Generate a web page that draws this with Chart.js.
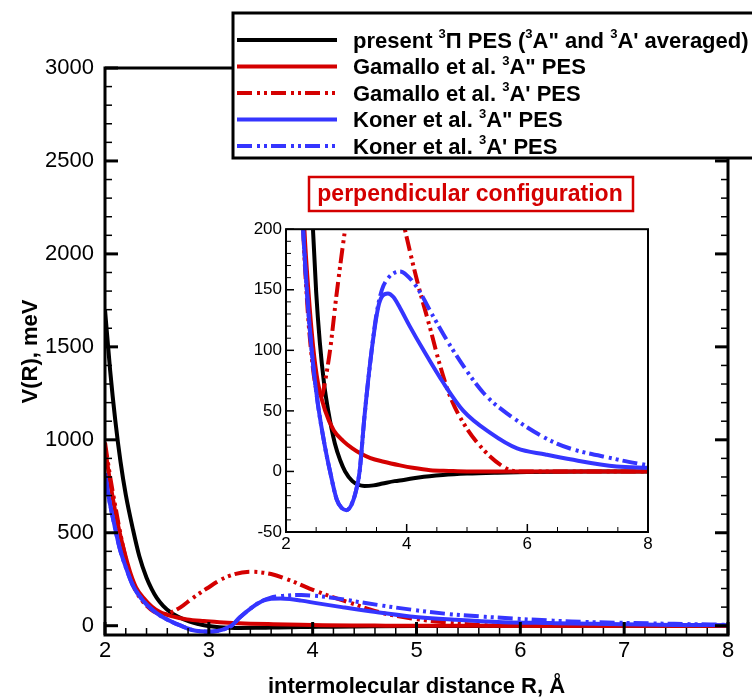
<!DOCTYPE html>
<html><head><meta charset="utf-8">
<script src="https://cdn.jsdelivr.net/npm/chart.js@4.4.1/dist/chart.umd.min.js"></script>
<style>
html,body{margin:0;padding:0;background:#fff;}
#wrap{position:relative;width:752px;height:700px;overflow:hidden;background:#fff;}
#main{position:absolute;left:0;top:0;}
#inset{position:absolute;left:240px;top:215px;}
</style></head><body>
<div id="wrap"><canvas id="main" width="752" height="700"></canvas><canvas id="inset" width="420" height="345"></canvas></div>
<script>
// ---------- data ----------
const presentR = [2.0,2.05,2.1,2.15,2.2,2.27,2.33,2.4,2.45,2.5,2.56,2.63,2.7,2.81,2.9,2.98,3.1,3.2,3.3,3.45,3.6,3.8,3.95,4.2,4.6,5.0,5.5,6.0,7.0,8.0];
const presentV = [1700,1370,1100,880,705,516,375,258,197,148,107,73,50,23,9,0,-8,-11,-12,-11.5,-10,-8,-7,-5,-3,-1.8,-1,-0.5,-0.1,0];

const gamalloAppR = [2.0,2.05,2.1,2.15,2.2,2.25,2.3,2.37,2.45,2.53,2.65,2.79,2.95,3.1,3.23,3.4,3.62,3.89,4.1,4.39,4.7,5.0,6.0,7.0,8.0];
const gamalloAppV = [960,770,610,480,370,275,205,150,103,73,50,34,25,19,15,11,8,5,3,1,0.4,0,0,0,0];

const gamalloApR = [2.0,2.05,2.1,2.15,2.2,2.27,2.35,2.44,2.5,2.55,2.6,2.65,2.73,2.84,2.98,3.17,3.4,3.6,3.8,3.97,4.17,4.39,4.55,4.72,4.94,5.27,5.6,5.82,6.5,8.0];
const gamalloApV = [985,800,640,490,360,220,140,88,68,61,63,75,100,147,200,262,290,278,240,200,158,118,88,62,40,18,4,0,0,0];

const konerAppR = [2.0,2.04,2.08,2.14,2.21,2.27,2.37,2.45,2.53,2.64,2.73,2.84,2.92,3.0,3.08,3.15,3.22,3.3,3.42,3.53,3.6,3.69,3.78,3.89,4.05,4.28,4.61,4.94,5.38,5.83,6.3,6.71,7.48,8.0];
const konerAppV = [820,680,570,420,300,215,133,88,55,22,0,-23,-30,-32,-28,-18,0,45,100,136,145,147,144,135,120,100,73,50,32,19,14,10,4,3];

const konerApR = [2.0,2.04,2.08,2.14,2.21,2.27,2.37,2.45,2.53,2.64,2.73,2.84,2.92,3.0,3.08,3.15,3.22,3.3,3.42,3.5,3.59,3.7,3.8,3.89,4.0,4.17,4.44,4.77,5.27,5.66,6.49,7.48,8.0];
const konerApV = [820,680,570,420,300,215,133,88,55,22,0,-23,-30,-32,-28,-18,0,45,100,130,150,160,164,165,162,152,128,100,65,48,23,10,5];

const seriesLabels = [
  'present ³Π PES (³A" and ³A\' averaged)',
  'Gamallo et al. ³A" PES',
  "Gamallo et al. ³A' PES",
  'Koner et al. ³A" PES',
  "Koner et al. ³A' PES"
];
const xTicksMain = [2,3,4,5,6,7,8];
const yTicksMain = [0,500,1000,1500,2000,2500,3000];
const xTicksInset = [2,4,6,8];
const yTicksInset = [-50,0,50,100,150,200];
const xTitle = 'intermolecular distance R, Å';
const yTitle = 'V(R), meV';
const noteText = 'perpendicular configuration';

// ---------- styling ----------
const FONT = "'Liberation Sans', Arial, Helvetica, sans-serif";
Chart.defaults.font.family = FONT;
Chart.defaults.color = '#000';
const RED = '#d40000', BLUE = '#3535ff', BLACK = '#000000';
const DASH = [15,5,3,4,3,4];
const plain = v => String(v);

const pts = (R, V) => R.map((r, i) => ({x: r, y: V[i]}));
function makeDatasets(lw) {
  const styles = [
    {c: BLACK, d: [], o: 5, R: presentR, V: presentV},
    {c: RED, d: [], o: 4, R: gamalloAppR, V: gamalloAppV},
    {c: RED, d: DASH, o: 3, R: gamalloApR, V: gamalloApV},
    {c: BLUE, d: [], o: 2, R: konerAppR, V: konerAppV},
    {c: BLUE, d: DASH, o: 1, R: konerApR, V: konerApV}
  ];
  return styles.map((s, i) => ({
    label: seriesLabels[i], data: pts(s.R, s.V), borderColor: s.c, backgroundColor: s.c,
    borderWidth: lw, borderDash: s.d, pointRadius: 0, fill: false, order: s.o,
    cubicInterpolationMode: 'monotone', borderCapStyle: 'butt', borderJoinStyle: 'round'
  }));
}

// frame + inward ticks
const frameTicks = {
  id: 'frameTicks',
  afterDatasetsDraw(chart, args, o) {
    const {ctx, chartArea: a, scales: {x, y}} = chart;
    ctx.save();
    ctx.strokeStyle = '#000';
    const seg = (x1, y1, x2, y2, w) => { ctx.lineWidth = w; ctx.beginPath(); ctx.moveTo(x1, y1); ctx.lineTo(x2, y2); ctx.stroke(); };
    const isMaj = (v, step) => Math.abs(v / step - Math.round(v / step)) < 1e-6;
    const nx = Math.round((x.max - x.min) / o.xMinor);
    for (let i = 0; i <= nx; i++) {
      const v = x.min + i * o.xMinor;
      const px = x.getPixelForValue(v);
      const maj = isMaj(v, o.xMajor);
      seg(px, a.bottom, px, a.bottom - (maj ? o.majorLen : o.minorLen), maj ? o.majorWidth : o.minorWidth);
    }
    const y0 = Math.ceil(y.min / o.yMinor) * o.yMinor;
    const ny = Math.round((y.max - y0) / o.yMinor);
    for (let i = 0; i <= ny; i++) {
      const v = y0 + i * o.yMinor;
      const py = y.getPixelForValue(v);
      const maj = isMaj(v, o.yMajor);
      const len = maj ? o.majorLen : o.minorLen;
      const w = maj ? o.majorWidth : o.minorWidth;
      seg(a.left, py, a.left + len, py, w);
      if (o.right) seg(a.right, py, a.right - len, py, w);
    }
    ctx.lineWidth = o.frameWidth;
    ctx.strokeRect(a.left, a.top, a.right - a.left, a.bottom - a.top);
    ctx.restore();
  }
};

function drawRich(ctx, text, x, y, size, color) {
  const parts = text.split('³');
  let cx = x;
  ctx.fillStyle = color;
  ctx.textBaseline = 'alphabetic';
  ctx.textAlign = 'left';
  parts.forEach((p, i) => {
    if (i > 0) {
      ctx.font = `bold ${Math.round(size * 0.6)}px ${FONT}`;
      ctx.fillText('3', cx, y - size * 0.42);
      cx += ctx.measureText('3').width;
    }
    ctx.font = `bold ${size}px ${FONT}`;
    ctx.fillText(p, cx, y);
    cx += ctx.measureText(p).width;
  });
}

const overlay = {
  id: 'overlay',
  afterDraw(chart) {
    const ctx = chart.ctx;
    ctx.save();
    // legend box
    ctx.fillStyle = '#fff';
    ctx.fillRect(233, 13, 540, 145);
    ctx.strokeStyle = '#000';
    ctx.lineWidth = 3;
    ctx.strokeRect(233, 13, 540, 145);
    chart.data.datasets.forEach((ds, i) => {
      const yc = 40 + i * 26.5;
      ctx.strokeStyle = ds.borderColor;
      ctx.lineWidth = 4;
      ctx.setLineDash(ds.borderDash || []);
      ctx.beginPath(); ctx.moveTo(237, yc); ctx.lineTo(337, yc); ctx.stroke();
      ctx.setLineDash([]);
      drawRich(ctx, ds.label, 353, yc + 7.5, 22, '#000');
    });
    // annotation
    ctx.strokeStyle = RED;
    ctx.lineWidth = 2.5;
    ctx.strokeRect(309, 177, 324, 34);
    ctx.fillStyle = RED;
    ctx.font = `bold 23px ${FONT}`;
    ctx.textAlign = 'center';
    ctx.textBaseline = 'alphabetic';
    ctx.fillText(noteText, 470, 201);
    ctx.restore();
  }
};

new Chart(document.getElementById('main'), {
  type: 'line',
  data: {datasets: makeDatasets(4)},
  plugins: [frameTicks, overlay],
  options: {
    responsive: false, animation: false, devicePixelRatio: 1,
    layout: {padding: {left: 0, right: 24, top: 68, bottom: 0}},
    plugins: {
      legend: {display: false}, tooltip: {enabled: false},
      frameTicks: {frameWidth: 3, majorLen: 13, minorLen: 7, majorWidth: 3, minorWidth: 1.5,
                   xMinor: 0.2, xMajor: 1, yMinor: 100, yMajor: 500, right: true}
    },
    scales: {
      x: {
        type: 'linear', min: 2, max: 8,
        grid: {display: false, drawTicks: false}, border: {display: false},
        afterBuildTicks: s => { s.ticks = xTicksMain.map(v => ({value: v})); },
        afterFit: s => { s.height = 65; },
        ticks: {font: {size: 22}, color: '#000', padding: 3, maxRotation: 0, autoSkip: false, callback: plain},
        title: {display: true, text: xTitle, font: {size: 22, weight: 'bold'}, color: '#000', padding: {top: 0, bottom: 0}}
      },
      y: {
        type: 'linear', min: -50, max: 3000,
        grid: {display: false, drawTicks: false}, border: {display: false},
        afterBuildTicks: s => { s.ticks = yTicksMain.map(v => ({value: v})); },
        afterFit: s => { s.width = 105; },
        ticks: {font: {size: 22}, color: '#000', padding: 11, autoSkip: false, callback: plain},
        title: {display: true, text: yTitle, font: {size: 22, weight: 'bold'}, color: '#000', padding: {top: 18, bottom: 0}}
      }
    }
  }
});

new Chart(document.getElementById('inset'), {
  type: 'line',
  data: {datasets: makeDatasets(4)},
  plugins: [frameTicks],
  options: {
    responsive: false, animation: false, devicePixelRatio: 1,
    layout: {padding: {left: 0, right: 12, top: 14, bottom: 0}},
    plugins: {
      legend: {display: false}, tooltip: {enabled: false},
      frameTicks: {frameWidth: 2, majorLen: 8, minorLen: 5, majorWidth: 1.5, minorWidth: 1,
                   xMinor: 0.5, xMajor: 2, yMinor: 10, yMajor: 50, right: false}
    },
    scales: {
      x: {
        type: 'linear', min: 2, max: 8,
        grid: {display: false, drawTicks: false}, border: {display: false},
        afterBuildTicks: s => { s.ticks = xTicksInset.map(v => ({value: v})); },
        afterFit: s => { s.height = 28; },
        ticks: {font: {size: 17}, color: '#000', padding: 2, maxRotation: 0, autoSkip: false, callback: plain}
      },
      y: {
        type: 'linear', min: -50, max: 200,
        grid: {display: false, drawTicks: false}, border: {display: false},
        afterBuildTicks: s => { s.ticks = yTicksInset.map(v => ({value: v})); },
        afterFit: s => { s.width = 46; },
        ticks: {font: {size: 17}, color: '#000', padding: 4, autoSkip: false, callback: plain}
      }
    }
  }
});
</script>
</body></html>
